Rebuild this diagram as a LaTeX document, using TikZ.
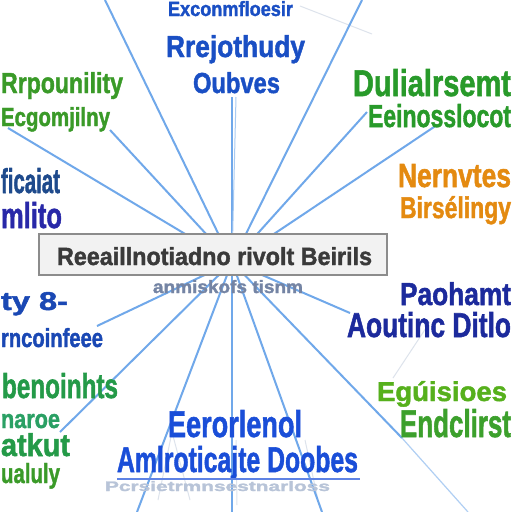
\documentclass[tikz,border=0pt]{standalone}
\usepackage{fontspec}
\setmainfont{Liberation Sans}[BoldFeatures={FakeBold=1.6}]
\usepackage{graphicx}
\newcommand{\fitw}[3]{\resizebox{#1pt}{#2pt}{\bfseries\vphantom{A}#3}}
\definecolor{linkblue}{HTML}{70A8EA}
\definecolor{faintgray}{HTML}{DDE3EC}
\definecolor{royal}{HTML}{1A4FC4}
\definecolor{grnA}{HTML}{3A9A28}
\definecolor{grnB}{HTML}{289A2A}
\definecolor{navyA}{HTML}{1E4A8C}
\definecolor{purpA}{HTML}{2828A8}
\definecolor{orng}{HTML}{E48A10}
\definecolor{blueB}{HTML}{1A48B4}
\definecolor{navyB}{HTML}{1C2A9C}
\definecolor{tealA}{HTML}{249A48}
\definecolor{tealB}{HTML}{2AA064}
\definecolor{lime}{HTML}{56B01C}
\definecolor{grnC}{HTML}{3CA02C}
\definecolor{blueC}{HTML}{1A4ED8}
\definecolor{boxtext}{HTML}{3A3A3A}
\definecolor{boxfill}{HTML}{F2F2F2}
\definecolor{boxedge}{HTML}{8C8C8C}
\definecolor{subgray}{HTML}{7484A4}
\definecolor{ghost}{HTML}{B8C4D8}
\begin{document}
\begin{tikzpicture}[x=1pt,y=-1pt,
  link/.style={draw=linkblue, line width=2pt},
  faint/.style={draw=faintgray, line width=1pt},
  lbl/.style={inner sep=0pt, outer sep=0pt, anchor=base west}]
\useasboundingbox (0,0) rectangle (512,512);
\clip (0,0) rectangle (512,512);
\fill[white] (0,0) rectangle (512,512);

% hub and connector ends
\coordinate (hub) at (232,262);
\coordinate (u1) at (105,0);
\coordinate (u2) at (362,0);
\coordinate (u3) at (232,97);
\coordinate (u3b) at (236,97);
\coordinate (u4) at (8,128);
\coordinate (u5) at (110,130);
\coordinate (u6) at (367,112);
\coordinate (u7) at (437,125);
\coordinate (d1) at (97,326);
\coordinate (d2) at (60,432);
\coordinate (d3) at (137,512);
\coordinate (d4) at (232,512);
\coordinate (d5) at (322,512);
\coordinate (d6) at (402,438);
\coordinate (d6b) at (468,512);
\coordinate (d7) at (350,313);

% faint background strokes
\coordinate (f1) at (300,6);
\coordinate (f2) at (372,34);
\coordinate (f3) at (158,500);
\coordinate (f4) at (172,432);
\coordinate (f5) at (190,500);
\coordinate (f6) at (305,440);
\coordinate (f7) at (318,500);
\coordinate (f8) at (236,440);
\coordinate (f9) at (237,505);
\coordinate (f10) at (393,378);
\coordinate (f11) at (430,322);
\draw[faint] (f1) -- (f2);
\draw[faint] (f3) -- (f4) -- (f5);
\draw[faint] (f6) -- (f7);
\draw[faint] (f8) -- (f9);
\draw[faint] (f10) -- (f11);

% connectors
\foreach \e in {u1,u2,u3,u4,u5,u6,u7,d1,d2,d3,d4,d5,d6,d7}
  \draw[link] (\e) -- (hub);
\draw[link, line width=1pt, draw=linkblue!60] (u3b) -- (hub);
\draw[link, line width=1.2pt, draw=linkblue!55] (d6) -- (d6b);

% central box
\node[draw=boxedge, fill=boxfill, line width=2.5pt, minimum width=348pt,
      minimum height=41pt, inner sep=0pt] (box) at (213,254.5) {};
\node[lbl, text=boxtext] (boxt) at (57,265) {\fitw{315}{18}{Reeaillnotiadno rivolt Beirils}};
\node[lbl, text=subgray] (sub) at (153,293) {\fitw{150}{13}{anmiskofs tisnm}};

% top center
\node[lbl, text=royal] (t1) at (168,16) {\fitw{125}{15}{Exconmfloesir}};
\node[lbl, text=royal] (t2) at (166,57) {\fitw{139}{22}{Rrejothudy}};
\node[lbl, text=royal] (t3) at (193,93) {\fitw{87}{21}{Oubves}};

% top left
\node[lbl, text=grnA] (l1) at (1,93) {\fitw{122}{21}{Rrpounility}};
\node[lbl, text=grnA] (l2) at (1,126) {\fitw{109}{19}{Ecgomjilny}};

% top right
\node[lbl, text=grnB] (r1) at (353,96) {\fitw{158}{27}{Dulialrsemt}};
\node[lbl, text=grnB] (r2) at (368,127) {\fitw{143}{23}{Eeinosslocot}};

% middle left
\node[lbl, text=navyA] (l3) at (1,193) {\fitw{59}{25}{ficaiat}};
\node[lbl, text=purpA] (l4) at (1,228) {\fitw{61}{26}{mlito}};

% middle right
\node[lbl, text=orng] (r3) at (398,187) {\fitw{113}{23}{Nernvtes}};
\node[lbl, text=orng] (r4) at (400,218) {\fitw{111}{22}{Birsélingy}};

% lower left
\node[lbl, text=blueB] (l5) at (1,310) {\fitw{67}{18}{ty 8-}};
\node[lbl, text=blueB] (l6) at (1,347) {\fitw{102}{19}{rncoinfeee}};

% lower right
\node[lbl, text=navyB] (r5) at (400,305) {\fitw{111}{23}{Paohamt}};
\node[lbl, text=navyB] (r6) at (347,337) {\fitw{164}{25}{Aoutinc Ditlo}};

% bottom left
\node[lbl, text=tealA] (l7) at (2,398) {\fitw{116}{25}{benoinhts}};
\node[lbl, text=tealB] (l8) at (1,428) {\fitw{59}{18}{naroe}};
\node[lbl, text=tealA] (l9) at (1,456) {\fitw{69}{23}{atkut}};
\node[lbl, text=grnA] (l10) at (1,483) {\fitw{59}{20}{ualuly}};

% bottom right
\node[lbl, text=lime] (r7) at (377,401) {\fitw{130}{20}{Egúisioes}};
\node[lbl, text=grnC] (r8) at (400,437) {\fitw{111}{28}{Endclirst}};

% bottom center
\node[lbl, text=blueC] (b1) at (168,437) {\fitw{134}{27}{Eerorlenol}};
\node[lbl, text=blueC] (b2) at (117,472) {\fitw{241}{26}{Amlroticajte Doobes}};
\coordinate (ul1) at (117,479);
\coordinate (ul2) at (360,479);
\draw[draw=blueC!70, line width=1.2pt] (ul1) -- (ul2);
\node[lbl, text=ghost] (b3) at (105,491) {\fitw{225}{10}{Pcrsietrmnsestnarloss}};
\end{tikzpicture}
\end{document}
